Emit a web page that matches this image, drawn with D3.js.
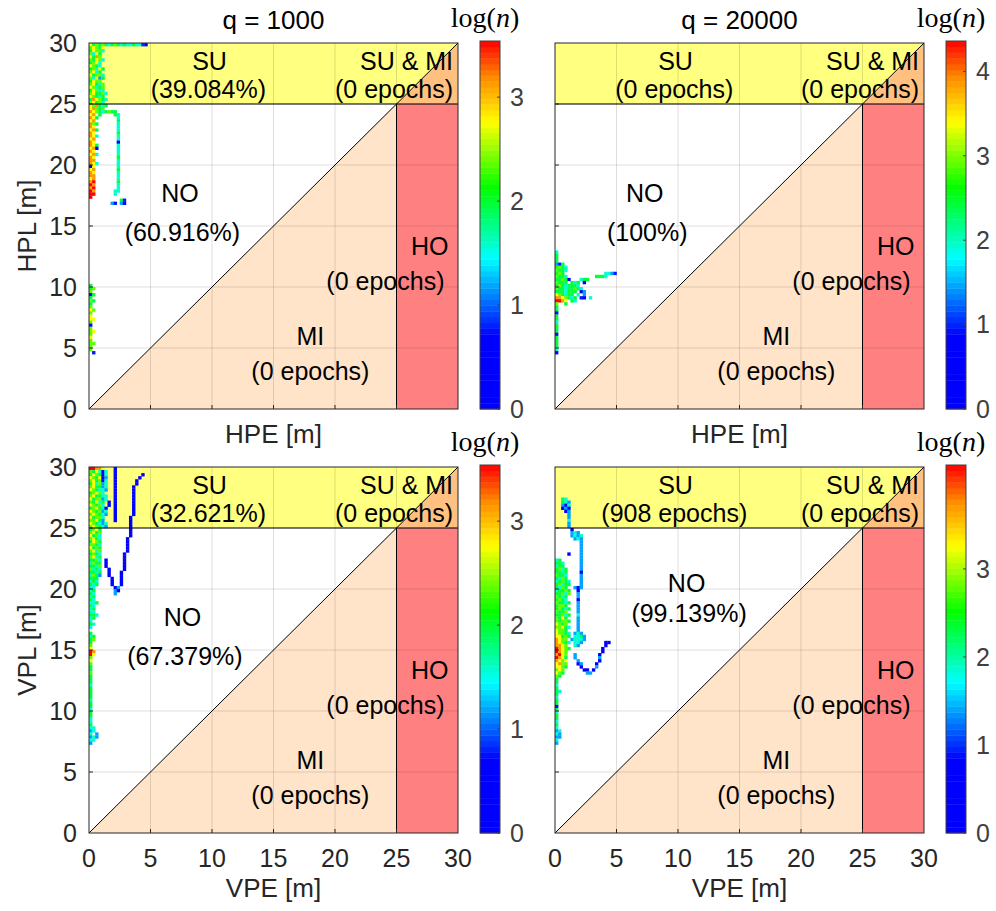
<!DOCTYPE html>
<meta charset="utf-8">
<style>
    body {
        margin:0;
        background:#fff;
    }
    svg text {
        font-family:'Liberation Sans', Arial, sans-serif;
    }
</style>
<body>
<script src="https://d3js.org/d3.v7.min.js"></script>
<script>
// axis ticks shared by every panel
var axisTicks = [0, 5, 10, 15, 20, 25, 30];
var alertLimit = 25, axisMax = 30, binSize = 0.25;

// 2D histogram rows: [row from the top (0 = 29.75..30 m), cell levels per 0.25 m column]
// level d -> log(n) = d / 9 * colour max of the panel, '.' = empty bin
var heatTL = [
    [0,"7565654565454454421"],[1,"67657"],[2,"57664"],[3,"6475"],[4,"7586"],
    [5,"65764"],[6,"5674"],[7,"7654"],[8,"56475"],[9,"6745"],[10,"75664"],
    [11,"64735"],[12,"5766"],[13,"67546"],[14,"76456"],[15,"57644"],[16,"675564"],
    [17,"76545"],[18,"587654"],[19,"67564"],[20,"768545"],[21,"78656"],
    [22,"876545655"],[23,"78.5....54"],[24,"875......4"],[25,"78.......5"],
    [26,"865......4"],[27,"87.......4"],[28,"785......4"],[29,"87.......5"],
    [30,"874......4"],[31,"78.......4"],[32,"87.......1"],[33,"875......4"],
    [34,"780......4"],[35,"87.......4"],[36,"784......4"],[37,"87.......5"],
    [38,"88.......4"],[39,"874......4"],[40,"07.......4"],[41,"78.......5"],
    [42,"87.......4"],[43,"88.......4"],[44,"78.......4"],[45,"89.......5"],
    [46,"98.......4"],[47,"89.......4"],[48,"98......44"],[49,"99......4"],
    [50,"9"],[51,"..........52"],[52,".......32.30"],
    [79,"5"],[80,"56"],[81,"6"],[82,"15"],[83,"5"],[84,"65"],[85,"5"],[86,"6"],
    [87,"76"],[88,"6"],[89,"7"],[90,"77"],[91,"6"],[92,"1"],[93,"6"],[94,"67"],
    [95,"6"],[96,"7"],[97,"6"],[98,"66"],[99,"6"],[100,"6"],[101,".2"]
];
var heatTR = [
    [68,"4"],[69,"5"],[70,"5"],[71,"5"],[72,"325"],[73,"5654"],[74,"6554"],
    [75,"565.............4432"],[76,"6554.........5554"],[77,"55651...455"],
    [78,"6555.545.1"],[79,"56545554"],[80,"655455654"],[81,"5554555.13"],
    [82,"765455.4.3"],[83,"8876545.20.4"],[84,"9987.54"],[85,"6..5"],
    [86,"5"],[87,"5"],[88,"1"],[89,"5"],[90,"5"],[91,"4"],[92,"5"],[93,"5"],
    [94,"5"],[95,"1"],[96,"5"],[97,"5"],[98,"5"],[99,"5"],[100,"4"],[101,"1"]
];
var heatBL = [
    [0,"99887...1"],[1,"657414..1"],[2,"576514..1........1"],[3,"765713..1.......1"],
    [4,"675614..1......1"],[5,"574634..1......1"],[6,"675534..1.....1"],
    [7,"765443..1.....1"],[8,"56764...1.....1"],[9,"675544..1.....1"],
    [10,"756634..1.....1"],[11,"65745.1.1.....1"],[12,"76564.1.1.....1"],
    [13,"567541..1.....1"],[14,"765634..1.....1"],[15,"676543..1.....1"],
    [16,"75664...1....1"],[17,"66753...1....1"],[18,"765434.......1"],
    [19,"676543.......1"],[20,"5675.........1"],[21,"6756.........1"],
    [22,"7564.........1"],[23,"6754........1"],[24,"5765........1"],
    [25,"6654........1"],[26,"7565........1"],[27,"6746........1"],
    [28,"5654.......1"],[29,"6745.......1"],[30,"5564.1.....1"],[31,"4655.1.....1"],
    [32,"5546.1.....1"],[33,"6454..1....1"],[34,"5545..1...1"],[35,"4653..1...1"],
    [36,"555....1..1"],[37,"454....1..1"],[38,"545....1..1"],[39,"44......13"],
    [40,"45......31"],[41,"54......3"],[42,"45"],[43,"54"],[44,"445"],[45,"54"],
    [46,"45"],[47,"44"],[48,"554"],[49,"45"],[50,"4"],[51,"54"],[52,"4"],[54,"5"],
    [55,"45"],[56,"56"],[57,"5"],[58,"6"],[59,"7"],[60,"98"],[61,"97"],[62,"6"],
    [63,"7"],[64,"6"],[65,"5"],[66,"5"],[67,"6"],[68,"5"],[69,"5"],[70,"5"],
    [71,"4"],[72,"5"],[73,"5"],[74,"5"],[75,"5"],[76,"4"],[77,"5"],[78,"5"],
    [79,"4"],[80,"5"],[81,"5"],[82,"4"],[83,"4"],[84,"5"],[85,"44"],[86,"34"],
    [87,"4.3"],[88,"343"],[89,"44"],[90,"3"]
];
var heatBR = [
    [10,"..54"],[11,"..543"],[12,"..314"],[13,"..131"],[14,"...13"],[15,"....3"],
    [16,"....3"],[17,"....4"],[18,"....3"],[19,"....3"],[20,".....1"],
    [21,".....343"],[22,".....3434"],[23,"......343"],[24,"........3"],
    [25,"........3"],[26,"........3"],[27,"........3"],[28,"....1...3"],
    [29,"........3"],[30,"45......3"],[31,"554.....3"],[32,"455.....3"],
    [33,"5645....3"],[34,"5545....1"],[35,"6554....3"],[36,"5465....3"],
    [37,"45654...3"],[38,"56455...3"],[39,"5465..313"],[40,"45565..1"],
    [41,"55646..3"],[42,"6545...3"],[43,"5654...1"],[44,"65545..3"],
    [45,"5665...3"],[46,"56545..3"],[47,"6556...3"],[48,"55645..4"],
    [49,"6575...3"],[50,"65665..3"],[51,"7656...3"],[52,"66754..3"],
    [53,"7665...3"],[54,"76654.343"],[55,"77565.4453"],[56,"8766.34443"],
    [57,"87654.443.......11"],[58,"8876..43........1"],[59,"98765..........1"],
    [60,"9876...........1"],[61,"8976..3.......1"],[62,"9875..3.......3"],
    [63,"8767...3......1"],[64,"7866...13....1"],[65,"7765....1....3"],
    [66,"676......11.1"],[67,"765.......33"],[68,"65"],[69,"5"],[70,"5"],
    [71,"4"],[72,"5"],[73,"54"],[74,"5"],[75,"4"],[76,"5"],[77,"5"],[78,"1"],
    [79,"5"],[80,"4"],[81,"5"],[82,"5"],[83,"4"],[84,"5"],[85,"4"],[86,"34"],
    [87,"43"],[88,"33"],[89,"4"],[90,"3"]
];

// colour-bar maxima and ticks, log(n)
var cmaxes = [3.54, 4.36, 3.54, 4.18];
var cticks = [[0,1,2,3], [0,1,2,3,4], [0,1,2,3], [0,1,2,3]];

// region texts
var pctSU = ["(39.084%)", "(0 epochs)", "(32.621%)", "(908 epochs)"];
var pctNO = ["(60.916%)", "(100%)", "(67.379%)", "(99.139%)"];
var titles = ["q = 1000", "q = 20000", "", ""];

var width = 996, height = 911;
var svg = d3.select("body").append("svg")
    .attr("width", width)
    .attr("height", height);

// jet-like colour map used by the figure
var cmap = d3.scaleLinear()
    .domain([0, 0.2, 0.41, 0.6, 0.78, 0.9, 1])
    .range(["#0000ff","#0000ff","#00ffff","#00ff00","#ffff00","#ff8c00","#ff0000"])
    .clamp(true);

var panels = [
    {left:89,  top:43,  heat:heatTL, xlab:"HPE [m]", ylab:"HPL [m]", xt:false, yt:true,  no:[7.4,17.7]},
    {left:555, top:43,  heat:heatTR, xlab:"HPE [m]", ylab:null,      xt:false, yt:false, no:[7.3,17.7]},
    {left:89,  top:467, heat:heatBL, xlab:"VPE [m]", ylab:"VPL [m]", xt:true,  yt:true,  no:[7.6,17.7]},
    {left:555, top:467, heat:heatBR, xlab:"VPE [m]", ylab:null,      xt:true,  yt:false, no:[10.7,20.5]}
];

var W = 369, H = 366;
var fs = 25, tfs = 25;

panels.forEach(function(p, i) {
    var g = svg.append("g");
    var x = d3.scaleLinear().domain([0, axisMax]).range([p.left, p.left + W]);
    var y = d3.scaleLinear().domain([0, axisMax]).range([p.top + H, p.top]);
    var line = d3.line().x(function(d) { return x(d[0]); }).y(function(d) { return y(d[1]); });

    // Stanford regions
    g.append("rect").attr("x", x(0)).attr("y", y(axisMax))
        .attr("width", x(axisMax) - x(0)).attr("height", y(alertLimit) - y(axisMax))
        .attr("fill", "#ffff80");
    g.append("path").attr("d", line([[alertLimit,alertLimit],[axisMax,alertLimit],[axisMax,axisMax]]) + "Z")
        .attr("fill", "#ffc080");
    g.append("path").attr("d", line([[0,0],[alertLimit,alertLimit],[alertLimit,0]]) + "Z")
        .attr("fill", "#ffe4c9");
    g.append("rect").attr("x", x(alertLimit)).attr("y", y(alertLimit))
        .attr("width", x(axisMax) - x(alertLimit)).attr("height", y(0) - y(alertLimit))
        .attr("fill", "#ff8080");

    // grid
    axisTicks.slice(1, -1).forEach(function(t) {
        g.append("line").attr("x1", x(t)).attr("x2", x(t)).attr("y1", y(0)).attr("y2", y(axisMax))
            .attr("stroke", "#000").attr("stroke-opacity", 0.13);
        g.append("line").attr("y1", y(t)).attr("y2", y(t)).attr("x1", x(0)).attr("x2", x(axisMax))
            .attr("stroke", "#000").attr("stroke-opacity", 0.13);
    });

    // histogram cells
    var cells = [];
    p.heat.forEach(function(row) {
        var s = row[1];
        for (var c = 0; c < s.length; c++) {
            if (s[c] !== ".") cells.push({c:c, r:row[0], v:(+s[c]) / 9 * cmaxes[i]});
        }
    });
    g.selectAll("rect.cell").data(cells).enter().append("rect")
        .attr("class", "cell")
        .attr("x", function(d) { return x(d.c * binSize); })
        .attr("y", function(d) { return y(axisMax - d.r * binSize); })
        .attr("width", x(binSize) - x(0) + 0.3)
        .attr("height", y(0) - y(binSize) + 0.3)
        .attr("fill", function(d) { return cmap(d.v / cmaxes[i]); });

    // boundaries
    [[[0,0],[axisMax,axisMax]], [[0,alertLimit],[axisMax,alertLimit]], [[alertLimit,0],[alertLimit,alertLimit]]]
        .forEach(function(seg) {
            g.append("path").attr("d", line(seg)).attr("stroke", "#000").attr("stroke-width", 1).attr("fill", "none");
        });

    // region texts
    var notes = [
        ["SU", 9.8, 28.5, "middle"], [pctSU[i], 9.7, 26.2, "middle"],
        ["SU & MI", 29.6, 28.5, "end"], ["(0 epochs)", 29.6, 26.2, "end"],
        ["NO", p.no[0], p.no[1], "middle"], [pctNO[i], p.no[0] + 0.2, p.no[1] - (i === 3 ? 2.5 : 3.2), "middle"],
        ["HO", 27.7, 13.3, "middle"], ["(0 epochs)", 24.1, 10.5, "middle"],
        ["MI", 18, 6, "middle"], ["(0 epochs)", 18, 3.1, "middle"]
    ];
    g.selectAll("text.note").data(notes).enter().append("text")
        .attr("class", "note")
        .attr("x", function(d) { return x(d[1]); })
        .attr("y", function(d) { return y(d[2]); })
        .attr("dy", "0.35em")
        .attr("text-anchor", function(d) { return d[3]; })
        .attr("font-size", fs)
        .attr("fill", "#000")
        .text(function(d) { return d[0]; });

    // box
    g.append("rect").attr("x", x(0)).attr("y", y(axisMax))
        .attr("width", W).attr("height", H)
        .attr("fill", "none").attr("stroke", "#262626").attr("stroke-width", 1);

    // ticks inward
    axisTicks.slice(1, -1).forEach(function(t) {
        g.append("line").attr("x1", x(0)).attr("x2", x(0) + 4).attr("y1", y(t)).attr("y2", y(t)).attr("stroke", "#262626");
        g.append("line").attr("x1", x(t)).attr("x2", x(t)).attr("y1", y(0)).attr("y2", y(0) - 4).attr("stroke", "#262626");
    });

    if (p.yt) {
        g.selectAll("text.yt").data(axisTicks).enter().append("text")
            .attr("x", x(0) - 12).attr("y", function(d) { return y(d); })
            .attr("dy", "0.35em").attr("text-anchor", "end")
            .attr("font-size", tfs).attr("fill", "#262626")
            .text(function(d) { return d; });
    }
    if (p.xt) {
        g.selectAll("text.xt").data(axisTicks).enter().append("text")
            .attr("x", function(d) { return x(d); }).attr("y", y(0) + 25)
            .attr("dy", "0.35em").attr("text-anchor", "middle")
            .attr("font-size", tfs).attr("fill", "#262626")
            .text(function(d) { return d; });
    }
    g.append("text")
        .attr("x", x(15)).attr("y", y(0) + (p.xt ? 55 : 25))
        .attr("dy", "0.35em").attr("text-anchor", "middle")
        .attr("font-size", 26).attr("fill", "#262626")
        .text(p.xlab);
    if (p.ylab) {
        g.append("text")
            .attr("transform", "translate(27," + y(15) + ") rotate(-90)")
            .attr("dy", "0.35em").attr("text-anchor", "middle")
            .attr("font-size", 26).attr("fill", "#262626")
            .text(p.ylab);
    }
    if (titles[i]) {
        g.append("text")
            .attr("x", x(15)).attr("y", p.top - 23)
            .attr("dy", "0.35em").attr("text-anchor", "middle")
            .attr("font-size", 26).attr("fill", "#000")
            .text(titles[i]);
    }

    // colour bar
    var cbx = p.left + W + 22, cbw = 20;
    var cy = d3.scaleLinear().domain([0, cmaxes[i]]).range([p.top + H, p.top - 2]);
    var steps = d3.range(64);
    g.selectAll("rect.cb").data(steps).enter().append("rect")
        .attr("x", cbx).attr("width", cbw)
        .attr("y", function(k) { return cy(cmaxes[i] * (k + 1) / 64); })
        .attr("height", function(k) { return cy(cmaxes[i] * k / 64) - cy(cmaxes[i] * (k + 1) / 64) + 0.4; })
        .attr("fill", function(k) { return cmap((k + 0.5) / 64); });
    g.append("rect").attr("x", cbx).attr("y", cy(cmaxes[i])).attr("width", cbw)
        .attr("height", cy(0) - cy(cmaxes[i]))
        .attr("fill", "none").attr("stroke", "#404040");
    cticks[i].forEach(function(t) {
        g.append("line").attr("x1", cbx + cbw).attr("x2", cbx + cbw - 3)
            .attr("y1", cy(t)).attr("y2", cy(t)).attr("stroke", "#404040");
        g.append("text").attr("x", cbx + cbw + 10).attr("y", cy(t))
            .attr("dy", "0.35em").attr("font-size", tfs).attr("fill", "#404040")
            .text(t);
    });
    var lg = g.append("text")
        .attr("x", cbx + cbw / 2 - 5).attr("y", p.top - 16)
        .attr("text-anchor", "middle")
        .attr("font-size", 28)
        .style("font-family", "'Liberation Serif', 'Times New Roman', serif")
        .attr("fill", "#000");
    lg.append("tspan").text("log(");
    lg.append("tspan").attr("font-style", "italic").text("n");
    lg.append("tspan").text(")");
});
</script>
</body>
